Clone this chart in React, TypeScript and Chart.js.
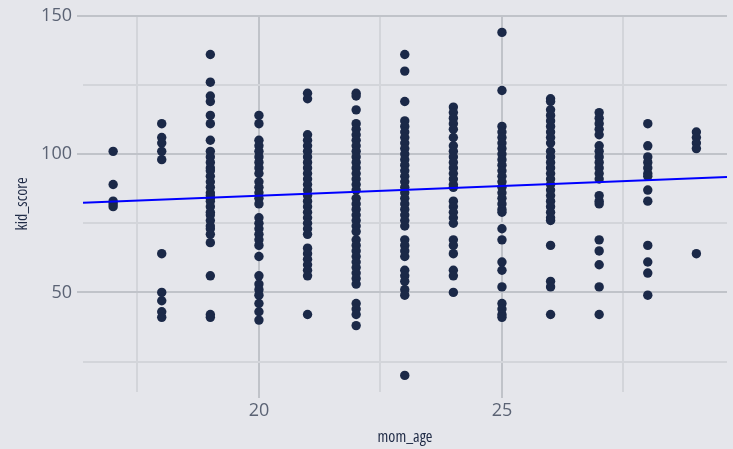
import React, { useEffect, useRef } from "react";
import { Chart, registerables } from "chart.js";

Chart.register(...registerables);

// mom_age categories and kid_score values
const ages = [17, 18, 19, 20, 21, 22, 23, 24, 25, 26, 27, 28, 29];
const score17 = [101, 89, 83, 82, 81];
const score18 = [111, 106, 104, 101, 98, 64, 50, 47, 43, 41];
const score19 = [136, 126, 121, 119, 114, 111, 105, 101, 99, 97, 95, 94, 92, 90, 88, 86, 85, 84, 83, 81, 79, 78, 76, 74, 73, 71, 68, 56, 42, 41];
const score20 = [114, 111, 105, 103, 101, 99, 97, 95, 93, 90, 88, 86, 84, 82, 77, 75, 73, 71, 69, 67, 63, 56, 53, 51, 49, 46, 43, 40];
const score21 = [122, 120, 107, 105, 103, 101, 99, 97, 95, 93, 91, 89, 87, 85, 83, 81, 79, 77, 75, 73, 71, 66, 64, 62, 60, 58, 56, 42];
const score22 = [122, 121, 116, 111, 109, 107, 105, 103, 101, 99, 97, 95, 93, 91, 89, 87, 84, 82, 80, 78, 76, 74, 72, 69, 67, 65, 63, 61, 59, 57, 55, 53, 46, 44, 42, 38];
const score23 = [136, 130, 119, 112, 110, 108, 106, 104, 102, 100, 98, 96, 94, 92, 90, 88, 86, 84, 82, 80, 78, 76, 74, 69, 67, 65, 63, 58, 56, 54, 51, 49, 20];
const score24 = [117, 115, 113, 111, 109, 106, 103, 101, 99, 97, 95, 93, 91, 89, 88, 83, 81, 79, 77, 75, 69, 67, 64, 58, 56, 50];
const score25 = [144, 123, 110, 108, 106, 104, 102, 100, 98, 96, 94, 92, 90, 88, 86, 84, 82, 80, 79, 73, 69, 61, 58, 52, 46, 44, 42, 41];
const score26 = [120, 119, 116, 114, 112, 110, 108, 106, 104, 101, 99, 97, 95, 93, 91, 89, 87, 85, 83, 81, 79, 77, 76, 67, 54, 52, 42];
const score27 = [115, 113, 111, 109, 107, 103, 101, 99, 97, 95, 93, 91, 85, 83, 82, 69, 65, 60, 52, 42];
const score28 = [111, 103, 99, 97, 95, 93, 92, 87, 83, 67, 61, 57, 49];
const score29 = [108, 106, 104, 102, 64];
const scoresByAge = [score17, score18, score19, score20, score21, score22, score23, score24, score25, score26, score27, score28, score29];

// fitted line end points
const fitX = [16.38, 29.63];
const fitY = [82.4, 91.7];

// axes
const xMin = 16.38;
const xMax = 29.63;
const yMin = 14;
const yMax = 150;
const xTicks = [17.5, 20, 22.5, 25, 27.5];
const xLabelled = [20, 25];
const yTicks = [25, 50, 75, 100, 125, 150];
const yLabelled = [50, 100, 150];

const BG = "#E5E6EB";
const MAJOR = "#C0C3C9";
const MINOR = "#D3D5DA";
const TICK_TEXT = "#5B6374";
const TITLE_TEXT = "#1E2A45";
const DOT = "#1B2948";

export default function App() {
  const ref = useRef<HTMLCanvasElement>(null);

  useEffect(() => {
    if (!ref.current) return;
    const points: { x: number; y: number }[] = [];
    ages.forEach((a, i) => scoresByAge[i].forEach((s) => points.push({ x: a, y: s })));
    const fit = fitX.map((x, i) => ({ x, y: fitY[i] }));

    const chart = new Chart(ref.current, {
      type: "scatter",
      data: {
        datasets: [
          {
            type: "line",
            data: fit,
            borderColor: "#0000FF",
            borderWidth: 2,
            pointRadius: 0,
            fill: false,
            order: 0,
          } as any,
          {
            type: "scatter",
            data: points,
            backgroundColor: DOT,
            borderWidth: 0,
            pointRadius: 4.7,
            order: 1,
          },
        ],
      },
      options: {
        responsive: false,
        animation: false,
        layout: { padding: { left: 0, top: 14, right: 6, bottom: 0 } },
        plugins: { legend: { display: false }, tooltip: { enabled: false } },
        scales: {
          x: {
            type: "linear",
            min: xMin,
            max: xMax,
            afterBuildTicks: (s: any) => {
              s.ticks = xTicks.map((v) => ({ value: v }));
            },
            afterFit: (s: any) => {
              s.height = 57;
            },
            border: { display: false },
            grid: {
              color: (c: any) => (xLabelled.includes(c.tick?.value) ? MAJOR : MINOR),
              lineWidth: 2,
              tickLength: 6,
              tickColor: (c: any) => (xLabelled.includes(c.tick?.value) ? MAJOR : "rgba(0,0,0,0)"),
            },
            ticks: {
              autoSkip: false,
              maxRotation: 0,
              padding: 2,
              color: TICK_TEXT,
              font: { family: "'Open Sans', 'Noto Sans', sans-serif", size: 18 },
              callback: (v: any) => (xLabelled.includes(Number(v)) ? String(v) : ""),
            },
            title: {
              display: true,
              text: "mom_age",
              color: TITLE_TEXT,
              font: { family: "'Open Sans', 'Noto Sans', sans-serif", size: 16, weight: "normal condensed" as any },
              padding: { top: 0, bottom: 2 },
            },
          },
          y: {
            type: "linear",
            min: yMin,
            max: yMax,
            afterBuildTicks: (s: any) => {
              s.ticks = yTicks.map((v) => ({ value: v }));
            },
            afterFit: (s: any) => {
              s.width = 83;
            },
            border: { display: false },
            grid: {
              color: (c: any) => (yLabelled.includes(c.tick?.value) ? MAJOR : MINOR),
              lineWidth: 2,
              tickLength: 6,
              tickColor: (c: any) => (yLabelled.includes(c.tick?.value) ? MAJOR : "rgba(0,0,0,0)"),
            },
            ticks: {
              autoSkip: false,
              padding: 5,
              color: TICK_TEXT,
              font: { family: "'Open Sans', 'Noto Sans', sans-serif", size: 18 },
              callback: (v: any) => (yLabelled.includes(Number(v)) ? String(v) : ""),
            },
            title: {
              display: true,
              text: "kid_score",
              color: TITLE_TEXT,
              font: { family: "'Open Sans', 'Noto Sans', sans-serif", size: 16, weight: "normal condensed" as any },
              padding: { top: 13, bottom: 0 },
            },
          },
        },
      },
    });
    return () => chart.destroy();
  }, []);

  return (
    <div style={{ position: "fixed", left: 0, top: 0, width: 733, height: 449, background: BG }}>
      <canvas ref={ref} width={733} height={449} style={{ display: "block" }} />
    </div>
  );
}
